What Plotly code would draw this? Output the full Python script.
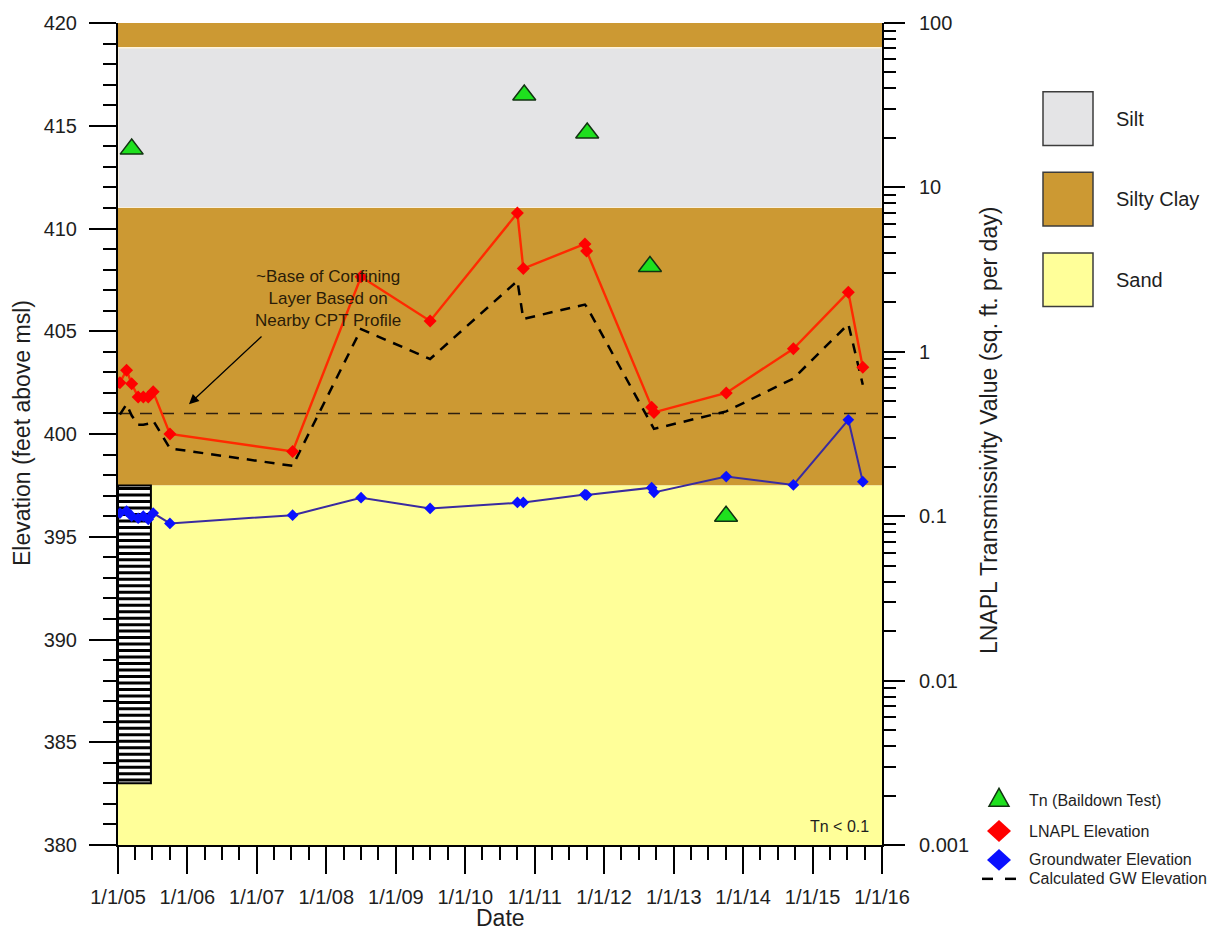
import datetime as dt
import plotly.graph_objects as go

# ---------------------------------------------------------------- data
gauge_dates = ["2005-01-11", "2005-02-15", "2005-03-14", "2005-04-17", "2005-05-14",
               "2005-06-09", "2005-07-05", "2005-10-01", "2007-07-08", "2008-07-02",
               "2009-06-30", "2010-10-02", "2010-11-02", "2011-09-22", "2011-10-01",
               "2012-09-07", "2012-09-19", "2013-10-04", "2014-09-22", "2015-07-08",
               "2015-09-22"]
lnapl_elev = [402.5, 403.1, 402.45, 401.8, 401.8, 401.8, 402.05, 400.0, 399.15, 407.65,
              405.5, 410.75, 408.05, 409.25, 408.9, 401.3, 401.05, 402.0, 404.15, 406.9,
              403.25]
gw_elev = [396.15, 396.25, 396.0, 395.9, 396.0, 395.85, 396.15, 395.65, 396.05, 396.9,
           396.38, 396.67, 396.67, 397.05, 397.03, 397.39, 397.16, 397.93, 397.52, 400.69,
           397.68]
calc_gw_elev = [400.95, 401.45, 400.9, 400.45, 400.45, 400.5, 400.65, 399.3, 398.45, 405.1,
                403.65, 407.45, 405.6, 406.3, 406.2, 400.4, 400.25, 401.1, 402.7, 405.35,
                402.4]

# baildown-test transmissivity (sq. ft. per day)
tn_dates = ["2005-03-14", "2010-11-07", "2011-10-04", "2012-08-29", "2013-10-03"]
tn_values = [17.1, 36.5, 21.4, 3.3, 0.1]

# soil profile (feet above msl)
layer_names = ["Silty Clay", "Silt", "Silty Clay", "Sand"]
layer_tops = [420.0, 418.8, 411.0, 397.5]
layer_bottoms = [418.8, 411.0, 397.5, 380.0]

# well screen interval
screen_start, screen_end = "2005-01-01", "2005-06-23"
screen_top, screen_bottom = 397.5, 383.0

# approximate base of confining layer
confining_base = 401.0

x_range = ["2005-01-01", "2016-01-01"]
y_range = [380, 420]

# ---------------------------------------------------------------- styles
FONT = "Liberation Sans, Arial, Helvetica, sans-serif"
TXT = "#1e1e1e"
soil_colors = {"Silt": "#E4E4E6", "Silty Clay": "#CC9933", "Sand": "#FFFF99"}

# plot-area geometry in pixels (used to place items in the margin)
X0, X1, Y0, Y1 = 118, 882, 19, 845


def px(x):
    return (x - X0) / (X1 - X0)


def py(y):
    return (Y1 - y) / (Y1 - Y0)


fig = go.Figure()
shapes = []
annotations = []

# soil layers
for name, top, bot in zip(layer_names, layer_tops, layer_bottoms):
    shapes.append(dict(type="rect", xref="paper", yref="y", x0=0, x1=1, y0=bot, y1=top,
                       fillcolor=soil_colors[name], layer="below",
                       line=dict(width=1.5 if name == "Silt" else 0,
                                 color="#FFF4DC")))

# confining-layer base
shapes.append(dict(type="line", xref="paper", yref="y", x0=0, x1=1,
                   y0=confining_base, y1=confining_base, layer="below",
                   line=dict(color="#2e2010", width=1.5, dash="12px,10px")))

# well screen: white column with horizontal hatching
shapes.append(dict(type="rect", xref="x", yref="y", x0=screen_start, x1=screen_end,
                   y0=screen_bottom, y1=screen_top, fillcolor="white", layer="below",
                   line=dict(width=0)))
n_hatch = 46
step = (screen_top - screen_bottom) / n_hatch
for k in range(n_hatch):
    yk = screen_bottom + step * (k + 0.5)
    shapes.append(dict(type="line", xref="x", yref="y", x0=screen_start, x1=screen_end,
                       y0=yk, y1=yk, layer="below",
                       line=dict(color="black", width=3)))
shapes.append(dict(type="rect", xref="x", yref="y", x0=screen_start, x1=screen_end,
                   y0=screen_bottom, y1=screen_top, layer="below",
                   line=dict(color="black", width=2)))

# calculated groundwater elevation
fig.add_trace(go.Scatter(x=gauge_dates, y=calc_gw_elev, mode="lines",
                         line=dict(color="black", width=2.5, dash="10px,8px"),
                         showlegend=False))
# LNAPL elevation
fig.add_trace(go.Scatter(x=gauge_dates, y=lnapl_elev, mode="lines+markers",
                         line=dict(color="#FF2A00", width=2.4),
                         marker=dict(symbol="diamond", size=10, color="#FF0000"),
                         showlegend=False))
# groundwater elevation
fig.add_trace(go.Scatter(x=gauge_dates, y=gw_elev, mode="lines+markers",
                         line=dict(color="#3A2BA0", width=2),
                         marker=dict(symbol="diamond", size=9, color="#0A10FF"),
                         showlegend=False))
# baildown-test transmissivity
fig.add_trace(go.Scatter(x=tn_dates, y=tn_values, mode="markers", yaxis="y2",
                         marker=dict(symbol="triangle-up", size=20, color="#1EE01E",
                                     line=dict(color="#123312", width=1.5)),
                         showlegend=False))

# ---------------------------------------------------------------- annotations
annotations.append(dict(xref="paper", yref="paper", x=px(253), y=py(296),
                        text="~Base of Confining<br>Layer Based on<br>Nearby CPT Profile",
                        showarrow=False, align="center",
                        font=dict(family=FONT, size=17, color="#2a1c08")))
annotations.append(dict(xref="paper", yref="paper", x=px(189), y=py(402), text="",
                        showarrow=True, ax=74, ay=-69, arrowhead=2, arrowsize=1.5,
                        arrowwidth=1.3, arrowcolor="black"))
annotations.append(dict(xref="paper", yref="paper", x=px(871), y=py(826), text="Tn < 0.1",
                        xanchor="right", yanchor="middle", showarrow=False,
                        font=dict(family=FONT, size=16, color=TXT)))

# axis titles
annotations.append(dict(xref="paper", yref="paper", x=0.5, y=py(918), text="Date",
                        showarrow=False, yanchor="middle",
                        font=dict(family=FONT, size=23, color=TXT)))
annotations.append(dict(xref="paper", yref="paper", x=px(22), y=py(431),
                        text="Elevation (feet above msl)", textangle=-90,
                        showarrow=False, xanchor="center", yanchor="middle",
                        font=dict(family=FONT, size=23, color=TXT)))
annotations.append(dict(xref="paper", yref="paper", x=px(989), y=py(429),
                        text="LNAPL Transmissivity Value (sq. ft. per day)", textangle=-90,
                        showarrow=False, xanchor="center", yanchor="middle",
                        font=dict(family=FONT, size=23, color=TXT)))

# soil legend
for i, name in enumerate(["Silt", "Silty Clay", "Sand"]):
    top = 88 + 81 * i
    shapes.append(dict(type="rect", xref="paper", yref="paper",
                       x0=px(1043), x1=px(1093), y0=py(top + 54), y1=py(top),
                       fillcolor=soil_colors[name], line=dict(color="#3c3c3c", width=1.5)))
    annotations.append(dict(xref="paper", yref="paper", x=px(1114), y=py(top + 27),
                            text=name, xanchor="left", yanchor="middle", showarrow=False,
                            font=dict(family=FONT, size=20, color=TXT)))


# series legend
def poly(points):
    return "M " + " L ".join(f"{px(a)},{py(b)}" for a, b in points) + " Z"


tri_c, tri_y = 999, 798
shapes.append(dict(type="path", xref="paper", yref="paper",
                   path=poly([(tri_c - 10, tri_y + 8), (tri_c + 10, tri_y + 8),
                              (tri_c, tri_y - 10)]),
                   fillcolor="#1EE01E", line=dict(color="#123312", width=1.5)))
for cy, col in [(831, "#FF0000"), (860, "#0A10FF")]:
    shapes.append(dict(type="path", xref="paper", yref="paper",
                       path=poly([(999, cy - 11), (1011, cy), (999, cy + 11), (987, cy)]),
                       fillcolor=col, line=dict(width=0)))
for xa, xb in [(982, 993), (1005, 1016)]:
    shapes.append(dict(type="line", xref="paper", yref="paper", x0=px(xa), x1=px(xb),
                       y0=py(879), y1=py(879), line=dict(color="black", width=2.5)))
for cy, label in [(800, "Tn (Baildown Test)"), (831, "LNAPL Elevation"),
                  (860, "Groundwater Elevation"), (879, "Calculated GW Elevation")]:
    annotations.append(dict(xref="paper", yref="paper", x=px(1027), y=py(cy), text=label,
                            xanchor="left", yanchor="middle", showarrow=False,
                            font=dict(family=FONT, size=16, color=TXT)))

# ---------------------------------------------------------------- layout
tick_font = dict(family=FONT, size=20, color=TXT)
fig.update_layout(
    width=1224, height=933,
    margin=dict(l=X0, r=1224 - X1, t=Y0, b=933 - Y1),
    paper_bgcolor="white", plot_bgcolor="white",
    showlegend=False,
    shapes=shapes, annotations=annotations,
    xaxis=dict(type="date", range=x_range, tick0="2005-01-01", dtick="M12",
               tickformat="%-m/%-d/%y", ticks="outside", ticklen=27, tickwidth=2,
               tickcolor="black", showline=True, linecolor="black", linewidth=2,
               showgrid=False, zeroline=False, tickfont=tick_font, ticklabelstandoff=6,
               minor=dict(dtick="M3", tick0="2005-01-01", ticks="outside", ticklen=13,
                          tickwidth=2, tickcolor="black", showgrid=False)),
    yaxis=dict(range=y_range, dtick=5, ticks="outside", ticklen=27, tickwidth=2,
               tickcolor="black", showline=True, linecolor="black", linewidth=2,
               showgrid=False, zeroline=False, tickfont=tick_font, ticklabelstandoff=8,
               minor=dict(dtick=1, ticks="outside", ticklen=13, tickwidth=2,
                          tickcolor="black", showgrid=False)),
    yaxis2=dict(type="log", range=[-3, 2], dtick=1, overlaying="y", side="right",
                ticks="outside", ticklen=21, tickwidth=2, tickcolor="black",
                showline=True, linecolor="black", linewidth=2, showgrid=False,
                zeroline=False, tickfont=tick_font, ticklabelstandoff=10,
                exponentformat="none",
                minor=dict(dtick="D1", ticks="outside", ticklen=12, tickwidth=2,
                           tickcolor="black", showgrid=False)),
)

fig.write_html("out.html")
